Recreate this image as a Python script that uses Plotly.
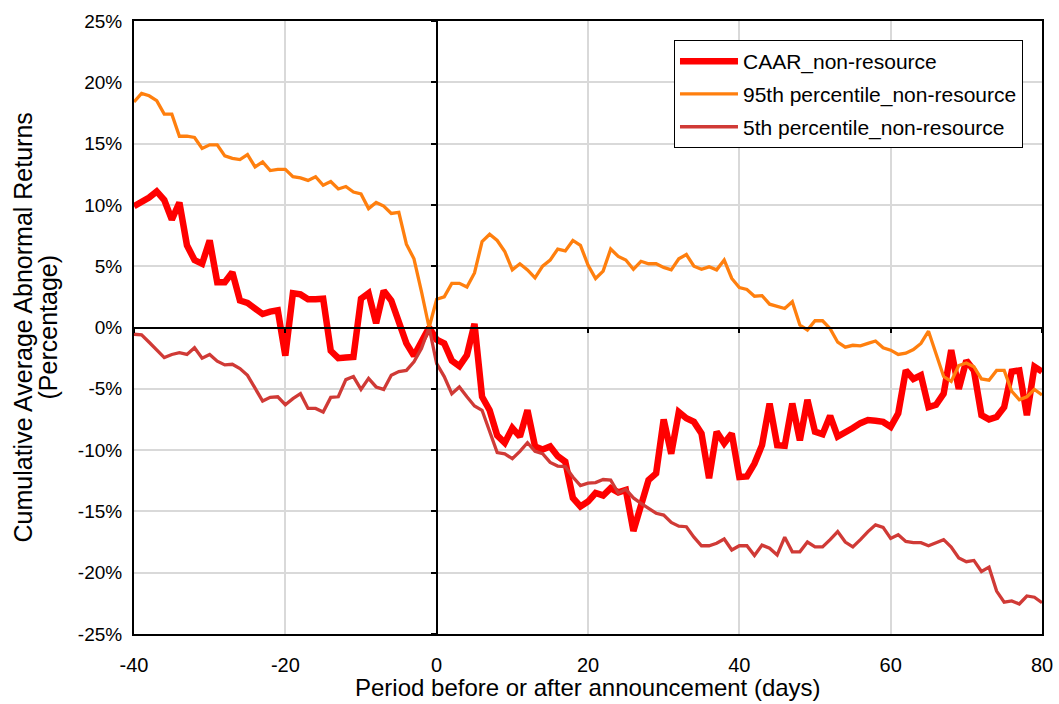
import plotly.graph_objects as go

# Event window (days relative to the announcement)
days = list(range(-40, 81))

# Cumulative average abnormal returns, in percent
caar = [
    9.9, 10.2, 10.6, 11.1, 10.4, 8.8, 10.2, 6.7, 5.5, 5.2,
    7.1, 3.7, 3.7, 4.5, 2.2, 2.0, 1.5, 1.1, 1.3, 1.4,
    -2.3, 2.8, 2.7, 2.3, 2.3, 2.35, -1.9, -2.5, -2.45, -2.4,
    2.35, 2.8, 0.35, 3.0, 2.2, 0.4, -1.3, -2.3, -1.0, 0.0,
    -1.0, -1.3, -2.7, -3.15, -2.25, 0.3, -5.65, -6.75, -8.8, -9.4,
    -8.2, -8.9, -6.75, -9.7, -9.95, -9.7, -10.5, -10.95, -13.9, -14.6,
    -14.2, -13.5, -13.7, -13.1, -13.45, -13.25, -16.6, -14.35, -12.45, -11.9,
    -7.5, -10.3, -6.9, -7.4, -7.7, -8.65, -12.3, -8.5, -9.45, -8.65,
    -12.2, -12.15, -11.1, -9.6, -6.2, -9.6, -9.65, -6.2, -9.2, -5.9,
    -8.5, -8.7, -7.2, -8.9, -8.6, -8.2, -7.8, -7.55, -7.6, -7.7,
    -8.1, -7.0, -3.5, -4.2, -3.9, -6.5, -6.3, -5.4, -1.85, -5.0,
    -2.7, -3.5, -7.15, -7.5, -7.3, -6.5, -3.6, -3.5, -7.15, -3.2,
    -3.6,
]

# 95th percentile band, in percent
p95 = [
    18.4, 19.1, 18.9, 18.5, 17.4, 17.4, 15.6, 15.6, 15.5, 14.6,
    14.9, 14.9, 14.0, 13.8, 13.7, 14.1, 13.1, 13.5, 12.8, 12.9,
    12.9, 12.3, 12.2, 12.0, 12.3, 11.6, 11.9, 11.3, 11.5, 11.05,
    10.9, 9.7, 10.2, 9.9, 9.3, 9.4, 6.8, 5.6, 2.9, 0.0,
    2.3, 2.5, 3.6, 3.6, 3.3, 4.45, 7.0, 7.6, 7.1, 6.2,
    4.7, 5.2, 4.7, 4.05, 5.0, 5.5, 6.4, 6.25, 7.1, 6.7,
    5.1, 4.0, 4.6, 6.4, 5.8, 5.5, 4.75, 5.4, 5.2, 5.2,
    4.9, 4.7, 5.6, 5.95, 5.0, 4.75, 4.95, 4.7, 5.5, 4.0,
    3.25, 3.1, 2.55, 2.6, 1.9, 1.75, 1.55, 2.1, 0.2, -0.2,
    0.55, 0.55, -0.1, -1.2, -1.6, -1.45, -1.5, -1.3, -1.1, -1.65,
    -1.85, -2.2, -2.1, -1.8, -1.3, -0.3, -2.1, -4.0, -4.4, -3.1,
    -2.9, -3.2, -4.2, -4.3, -3.5, -3.5, -5.2, -5.9, -5.65, -5.05,
    -5.5,
]

# 5th percentile band, in percent
p5 = [
    -0.55, -0.6, -1.2, -1.8, -2.45, -2.2, -2.05, -2.2, -1.65, -2.5,
    -2.2, -2.75, -3.05, -3.0, -3.35, -3.9, -4.9, -6.0, -5.7, -5.65,
    -6.3, -5.8, -5.4, -6.6, -6.6, -6.9, -5.7, -5.65, -4.25, -4.0,
    -5.05, -4.15, -4.85, -5.05, -3.9, -3.6, -3.5, -2.8, -1.7, 0.0,
    -2.95, -4.0, -5.4, -4.85, -5.65, -6.4, -6.75, -8.5, -10.2, -10.3,
    -10.7, -10.1, -9.4, -10.1, -10.3, -11.0, -11.3, -11.35, -12.2, -12.9,
    -12.7, -12.65, -12.4, -12.45, -13.5, -13.2, -13.9, -14.35, -14.75, -15.15,
    -15.3, -15.9, -16.2, -16.25, -17.1, -17.8, -17.8, -17.6, -17.25, -18.15,
    -17.8, -17.8, -18.6, -17.75, -18.0, -18.55, -17.1, -18.3, -18.3, -17.5,
    -17.9, -17.9, -17.3, -16.65, -17.5, -17.9, -17.3, -16.65, -16.1, -16.3,
    -17.2, -16.9, -17.45, -17.55, -17.55, -17.8, -17.55, -17.3, -17.9, -18.8,
    -19.1, -19.0, -19.9, -19.55, -21.5, -22.4, -22.3, -22.55, -21.9, -22.0,
    -22.45,
]

x_ticks = [-40, -20, 0, 20, 40, 60, 80]
x_tick_text = ["-40", "-20", "0", "20", "40", "60", "80"]
y_ticks = [-25, -20, -15, -10, -5, 0, 5, 10, 15, 20, 25]
y_tick_text = ["-25%", "-20%", "-15%", "-10%", "-5%", "0%",
               "5%", "10%", "15%", "20%", "25%"]

FONT = "Liberation Sans, Arial, sans-serif"
GRID = "#d9d9d9"

fig = go.Figure()
fig.add_trace(go.Scatter(x=days, y=caar, mode="lines", name="CAAR_non-resource",
                         legendgroup="a", line=dict(color="#ff0000", width=6.5)))
fig.add_trace(go.Scatter(x=days, y=p95, mode="lines", name="95th percentile_non-resource",
                         legendgroup="b", line=dict(color="#ff7f0e", width=3.3)))
fig.add_trace(go.Scatter(x=days, y=p5, mode="lines", name="5th percentile_non-resource",
                         legendgroup="c", line=dict(color="#d03a36", width=3.3)))
# empty trace so the axes crossing at zero are drawn
fig.add_trace(go.Scatter(x=[], y=[], xaxis="x2", yaxis="y2", showlegend=False,
                         hoverinfo="skip"))

fig.update_layout(
    width=1059, height=704,
    margin=dict(l=134, r=17, t=21, b=70),
    paper_bgcolor="white", plot_bgcolor="white",
    font=dict(family=FONT, size=20, color="black"),
    showlegend=True,
    legend=dict(x=0.5947, y=0.969, xanchor="left", yanchor="top",
                bgcolor="white", bordercolor="black", borderwidth=1,
                font=dict(size=21, family=FONT), tracegroupgap=2.5,
                itemwidth=58),
    xaxis=dict(range=[-40, 80], tickvals=x_ticks, ticktext=x_tick_text,
               showgrid=True, gridcolor=GRID, gridwidth=1.5, zeroline=False,
               showline=True, mirror=True, linecolor="black", linewidth=2,
               ticks="", ticklabelstandoff=12, tickfont=dict(size=20),
               automargin=False),
    yaxis=dict(range=[-25, 25], tickvals=y_ticks, ticktext=y_tick_text,
               showgrid=True, gridcolor=GRID, gridwidth=1.5, zeroline=False,
               showline=True, mirror=True, linecolor="black", linewidth=2,
               ticks="", ticklabelstandoff=6, tickfont=dict(size=19),
               automargin=False),
    # axis lines through the origin, with outward tick marks
    xaxis2=dict(range=[-40, 80], overlaying="x", anchor="free", position=0.5,
                tickvals=x_ticks, showticklabels=False, showgrid=False,
                zeroline=False, showline=True, linecolor="black", linewidth=1.5,
                ticks="outside", ticklen=5, tickcolor="black", tickwidth=1.5,
                automargin=False),
    yaxis2=dict(range=[-25, 25], overlaying="y", anchor="free", position=1 / 3,
                tickvals=y_ticks, showticklabels=False, showgrid=False,
                zeroline=False, showline=True, linecolor="black", linewidth=1.5,
                ticks="outside", ticklen=5, tickcolor="black", tickwidth=1.5,
                automargin=False),
    annotations=[
        dict(text="Period before or after announcement (days)",
             xref="paper", yref="paper", x=0.5, y=-0.088,
             xanchor="center", yanchor="middle", showarrow=False,
             font=dict(size=24, family=FONT)),
        dict(text="Cumulative Average Abnormal Returns",
             xref="paper", yref="paper", x=(22 - 134) / 908, y=0.5, textangle=-90,
             xanchor="center", yanchor="middle", showarrow=False,
             font=dict(size=25, family=FONT)),
        dict(text="(Percentage)",
             xref="paper", yref="paper", x=(47 - 134) / 908, y=0.5, textangle=-90,
             xanchor="center", yanchor="middle", showarrow=False,
             font=dict(size=25, family=FONT)),
    ],
)

fig.write_html("out.html")
